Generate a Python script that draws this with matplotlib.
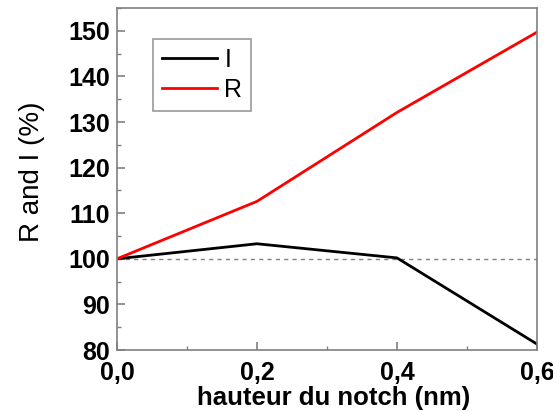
from matplotlib import pyplot as plt
from matplotlib.ticker import MultipleLocator
import matplotlib.ticker as mticker

plt.rcParams['font.family'] = ['Liberation Sans', 'DejaVu Sans']

# data
notch = [0.0, 0.2, 0.4, 0.6]
I_vals = [100.0, 103.3, 100.2, 81.3]
R_vals = [100.0, 112.6, 132.1, 149.7]


def comma_fmt(x, pos):
    return f"{x:.1f}".replace(".", ",")


def main():
    fig = plt.figure(figsize=(5.53, 4.11), dpi=100)
    ax = fig.add_axes([0.2116, 0.1484, 0.971 - 0.2116, 0.9805 - 0.1484])

    ax.axhline(100, color="gray", linestyle=(0, (3, 3)), linewidth=1)
    ax.plot(notch, I_vals, color="black", linewidth=2, label="I")
    ax.plot(notch, R_vals, color="red", linewidth=2, label="R")

    ax.set_xlim(0, 0.6)
    ax.set_ylim(80, 155)
    ax.xaxis.set_major_locator(MultipleLocator(0.2))
    ax.xaxis.set_minor_locator(MultipleLocator(0.1))
    ax.xaxis.set_major_formatter(mticker.FuncFormatter(comma_fmt))
    ax.yaxis.set_major_locator(MultipleLocator(10))
    ax.yaxis.set_minor_locator(MultipleLocator(5))

    for s in ax.spines.values():
        s.set_color("gray")
        s.set_linewidth(1.2)
    ax.tick_params(which="both", direction="in", color="gray")
    ax.tick_params(which="major", length=6, width=1.2, labelsize=18)
    ax.tick_params(axis="x", which="major", pad=8)
    ax.tick_params(axis="y", which="major", pad=5)
    ax.tick_params(which="minor", length=3, width=1)
    for lab in ax.get_xticklabels() + ax.get_yticklabels():
        lab.set_fontweight("bold")

    ax.set_xlabel("hauteur du notch (nm)", fontsize=18.5, fontweight="bold", labelpad=0)
    ax.xaxis.set_label_coords(0.515, -0.105, transform=ax.transAxes)
    ax.xaxis.label.set_va("top")
    ax.set_ylabel("R and I (%)", fontsize=20)
    ax.yaxis.set_label_coords(-0.172, 0.52, transform=ax.transAxes)

    leg = ax.legend(loc="upper left", bbox_to_anchor=(0.086, 0.909), fontsize=18,
                    frameon=True, fancybox=False, handlelength=2.2, borderpad=0.35,
                    labelspacing=0.25, handletextpad=0.3, borderaxespad=0)
    leg.get_frame().set_edgecolor("gray")
    leg.get_frame().set_linewidth(1.2)

    fig.savefig("out.png", dpi=100)


if __name__ == "__main__":
    main()
